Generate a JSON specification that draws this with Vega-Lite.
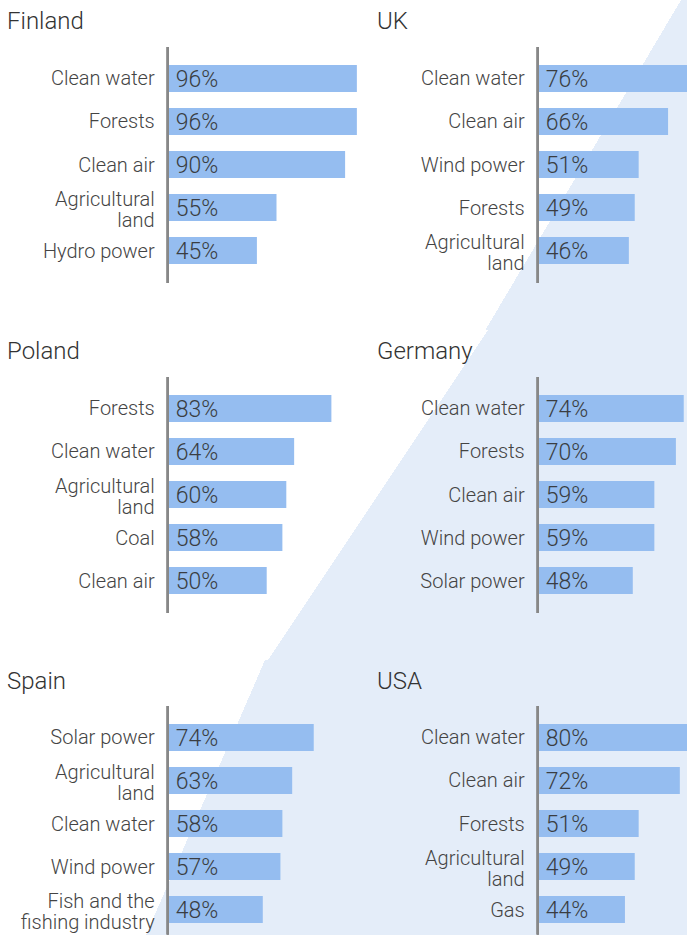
{
  "$schema": "https://vega.github.io/schema/vega-lite/v6.json",
  "padding": 0,
  "autosize": {"type": "pad"},
  "background": "#ffffff",
  "spacing": 0,
  "config": {
    "view": {"stroke": null},
    "font": "Roboto",
    "concat": {"spacing": 0}
  },
  "datasets": {
    "d": [
      {"country": "Finland", "category": "Clean water", "value": 0.96},
      {"country": "Finland", "category": "Forests", "value": 0.96},
      {"country": "Finland", "category": "Clean air", "value": 0.90},
      {"country": "Finland", "category": "Agricultural|land", "value": 0.55},
      {"country": "Finland", "category": "Hydro power\u00a0", "value": 0.45},
      {"country": "UK", "category": "Clean water", "value": 0.76},
      {"country": "UK", "category": "Clean air", "value": 0.66},
      {"country": "UK", "category": "Wind power", "value": 0.51},
      {"country": "UK", "category": "Forests", "value": 0.49},
      {"country": "UK", "category": "Agricultural|land", "value": 0.46},
      {"country": "Poland", "category": "Forests", "value": 0.83},
      {"country": "Poland", "category": "Clean water", "value": 0.64},
      {"country": "Poland", "category": "Agricultural|land", "value": 0.60},
      {"country": "Poland", "category": "Coal", "value": 0.58},
      {"country": "Poland", "category": "Clean air", "value": 0.50},
      {"country": "Germany", "category": "Clean water", "value": 0.74},
      {"country": "Germany", "category": "Forests", "value": 0.70},
      {"country": "Germany", "category": "Clean air", "value": 0.59},
      {"country": "Germany", "category": "Wind power", "value": 0.59},
      {"country": "Germany", "category": "Solar power", "value": 0.48},
      {"country": "Spain", "category": "Solar power\u00a0", "value": 0.74},
      {"country": "Spain", "category": "Agricultural|land", "value": 0.63},
      {"country": "Spain", "category": "Clean water", "value": 0.58},
      {"country": "Spain", "category": "Wind power", "value": 0.57},
      {"country": "Spain", "category": "Fish and the|fishing industry", "value": 0.48},
      {"country": "USA", "category": "Clean water", "value": 0.80},
      {"country": "USA", "category": "Clean air", "value": 0.72},
      {"country": "USA", "category": "Forests", "value": 0.51},
      {"country": "USA", "category": "Agricultural|land", "value": 0.49},
      {"country": "USA", "category": "Gas\u00a0", "value": 0.44}
    ]
  },
  "vconcat": [
    {
      "spacing": 0,
      "hconcat": [
        {
          "width": 370, "height": 330,
          "view": {"fill": "#ffffff", "stroke": null},
          "title": {"text": "Finland", "anchor": "start", "frame": "group", "orient": "top", "offset": -53, "baseline": "alphabetic", "dx": 7, "fontSize": 24, "fontWeight": 300, "color": "#333333", "zindex": 1},
          "data": {"name": "d"},
          "transform": [{"filter": "datum.country === 'Finland'"}],
          "encoding": {"y": {"field": "category", "type": "nominal", "sort": null, "axis": null, "scale": {"range": [65, 264], "paddingInner": 0.3721, "paddingOuter": 0, "round": false}}},
          "layer": [
            {"mark": {"type": "bar", "color": "#95bdf0", "clip": true}, "encoding": {"x": {"field": "value", "type": "quantitative", "axis": null, "scale": {"domain": [-0.8607, 1.027], "nice": false, "zero": false}}}},
            {"mark": {"type": "text", "align": "left", "baseline": "middle", "dx": 7, "dy": 1.5, "fontSize": 23, "fontWeight": 300, "color": "#3a3d42"}, "encoding": {"x": {"datum": 0, "type": "quantitative"}, "text": {"field": "value", "type": "quantitative", "format": ".0%"}}},
            {"transform": [{"filter": "indexof(datum.category, '|') < 0"}], "mark": {"type": "text", "align": "right", "baseline": "middle", "dx": -14, "dy": 1, "fontSize": 20, "fontWeight": 300, "color": "#444444"}, "encoding": {"x": {"datum": 0, "type": "quantitative"}, "text": {"field": "category", "type": "nominal"}}},
            {"transform": [{"filter": "indexof(datum.category, '|') >= 0"}], "mark": {"type": "text", "align": "right", "baseline": "middle", "dx": -14, "dy": -7.5, "lineBreak": "|", "lineHeight": 21, "fontSize": 20, "fontWeight": 300, "color": "#444444"}, "encoding": {"x": {"datum": 0, "type": "quantitative"}, "text": {"field": "category", "type": "nominal"}}},
            {"mark": {"type": "rule", "color": "#888888", "strokeWidth": 2, "xOffset": -1, "yOffset": -31.5, "y2Offset": 32.5}, "encoding": {"x": {"datum": 0, "type": "quantitative"}, "y": {"datum": "Clean water", "type": "nominal"}, "y2": {"datum": "Hydro power\u00a0"}}}
          ]
        },
        {
          "width": 317, "height": 330,
          "view": {"fill": {"gradient": "linear", "x1": 0, "y1": 0, "x2": 1, "y2": 0.6171, "stops": [{"offset": 0, "color": "#ffffff"}, {"offset": 0.7105, "color": "#ffffff"}, {"offset": 0.7105, "color": "#e4edf9"}, {"offset": 1, "color": "#e4edf9"}]}, "stroke": null},
          "title": {"text": "UK", "anchor": "start", "frame": "group", "orient": "top", "offset": -53, "baseline": "alphabetic", "dx": 7, "fontSize": 24, "fontWeight": 300, "color": "#333333", "zindex": 1},
          "data": {"name": "d"},
          "transform": [{"filter": "datum.country === 'UK'"}],
          "encoding": {"y": {"field": "category", "type": "nominal", "sort": null, "axis": null, "scale": {"range": [65, 264], "paddingInner": 0.3721, "paddingOuter": 0, "round": false}}},
          "layer": [
            {"mark": {"type": "bar", "color": "#95bdf0", "clip": true}, "encoding": {"x": {"field": "value", "type": "quantitative", "axis": null, "scale": {"domain": [-0.8607, 0.7566], "nice": false, "zero": false}}}},
            {"mark": {"type": "text", "align": "left", "baseline": "middle", "dx": 7, "dy": 1.5, "fontSize": 23, "fontWeight": 300, "color": "#3a3d42"}, "encoding": {"x": {"datum": 0, "type": "quantitative"}, "text": {"field": "value", "type": "quantitative", "format": ".0%"}}},
            {"transform": [{"filter": "indexof(datum.category, '|') < 0"}], "mark": {"type": "text", "align": "right", "baseline": "middle", "dx": -14, "dy": 1, "fontSize": 20, "fontWeight": 300, "color": "#444444"}, "encoding": {"x": {"datum": 0, "type": "quantitative"}, "text": {"field": "category", "type": "nominal"}}},
            {"transform": [{"filter": "indexof(datum.category, '|') >= 0"}], "mark": {"type": "text", "align": "right", "baseline": "middle", "dx": -14, "dy": -7.5, "lineBreak": "|", "lineHeight": 21, "fontSize": 20, "fontWeight": 300, "color": "#444444"}, "encoding": {"x": {"datum": 0, "type": "quantitative"}, "text": {"field": "category", "type": "nominal"}}},
            {"mark": {"type": "rule", "color": "#888888", "strokeWidth": 2, "xOffset": -1, "yOffset": -31.5, "y2Offset": 32.5}, "encoding": {"x": {"datum": 0, "type": "quantitative"}, "y": {"datum": "Clean water", "type": "nominal"}, "y2": {"datum": "Agricultural|land"}}}
          ]
        }
      ]
    },
    {
      "spacing": 0,
      "hconcat": [
        {
          "width": 370, "height": 330,
          "view": {"fill": {"gradient": "linear", "x1": 0, "y1": 0, "x2": 1, "y2": 0.5946, "stops": [{"offset": 0, "color": "#ffffff"}, {"offset": 0.9744, "color": "#ffffff"}, {"offset": 0.9744, "color": "#e4edf9"}, {"offset": 1, "color": "#e4edf9"}]}, "stroke": null},
          "title": {"text": "Poland", "anchor": "start", "frame": "group", "orient": "top", "offset": -53, "baseline": "alphabetic", "dx": 7, "fontSize": 24, "fontWeight": 300, "color": "#333333", "zindex": 1},
          "data": {"name": "d"},
          "transform": [{"filter": "datum.country === 'Poland'"}],
          "encoding": {"y": {"field": "category", "type": "nominal", "sort": null, "axis": null, "scale": {"range": [65, 264], "paddingInner": 0.3721, "paddingOuter": 0, "round": false}}},
          "layer": [
            {"mark": {"type": "bar", "color": "#95bdf0", "clip": true}, "encoding": {"x": {"field": "value", "type": "quantitative", "axis": null, "scale": {"domain": [-0.8607, 1.027], "nice": false, "zero": false}}}},
            {"mark": {"type": "text", "align": "left", "baseline": "middle", "dx": 7, "dy": 1.5, "fontSize": 23, "fontWeight": 300, "color": "#3a3d42"}, "encoding": {"x": {"datum": 0, "type": "quantitative"}, "text": {"field": "value", "type": "quantitative", "format": ".0%"}}},
            {"transform": [{"filter": "indexof(datum.category, '|') < 0"}], "mark": {"type": "text", "align": "right", "baseline": "middle", "dx": -14, "dy": 1, "fontSize": 20, "fontWeight": 300, "color": "#444444"}, "encoding": {"x": {"datum": 0, "type": "quantitative"}, "text": {"field": "category", "type": "nominal"}}},
            {"transform": [{"filter": "indexof(datum.category, '|') >= 0"}], "mark": {"type": "text", "align": "right", "baseline": "middle", "dx": -14, "dy": -7.5, "lineBreak": "|", "lineHeight": 21, "fontSize": 20, "fontWeight": 300, "color": "#444444"}, "encoding": {"x": {"datum": 0, "type": "quantitative"}, "text": {"field": "category", "type": "nominal"}}},
            {"mark": {"type": "rule", "color": "#888888", "strokeWidth": 2, "xOffset": -1, "yOffset": -31.5, "y2Offset": 32.5}, "encoding": {"x": {"datum": 0, "type": "quantitative"}, "y": {"datum": "Forests", "type": "nominal"}, "y2": {"datum": "Clean air"}}}
          ]
        },
        {
          "width": 317, "height": 330,
          "view": {"fill": {"gradient": "linear", "x1": 0, "y1": 0, "x2": 1, "y2": 0.694, "stops": [{"offset": 0, "color": "#ffffff"}, {"offset": 0.2512, "color": "#ffffff"}, {"offset": 0.2512, "color": "#e4edf9"}, {"offset": 1, "color": "#e4edf9"}]}, "stroke": null},
          "title": {"text": "Germany", "anchor": "start", "frame": "group", "orient": "top", "offset": -53, "baseline": "alphabetic", "dx": 7, "fontSize": 24, "fontWeight": 300, "color": "#333333", "zindex": 1},
          "data": {"name": "d"},
          "transform": [{"filter": "datum.country === 'Germany'"}],
          "encoding": {"y": {"field": "category", "type": "nominal", "sort": null, "axis": null, "scale": {"range": [65, 264], "paddingInner": 0.3721, "paddingOuter": 0, "round": false}}},
          "layer": [
            {"mark": {"type": "bar", "color": "#95bdf0", "clip": true}, "encoding": {"x": {"field": "value", "type": "quantitative", "axis": null, "scale": {"domain": [-0.8607, 0.7566], "nice": false, "zero": false}}}},
            {"mark": {"type": "text", "align": "left", "baseline": "middle", "dx": 7, "dy": 1.5, "fontSize": 23, "fontWeight": 300, "color": "#3a3d42"}, "encoding": {"x": {"datum": 0, "type": "quantitative"}, "text": {"field": "value", "type": "quantitative", "format": ".0%"}}},
            {"transform": [{"filter": "indexof(datum.category, '|') < 0"}], "mark": {"type": "text", "align": "right", "baseline": "middle", "dx": -14, "dy": 1, "fontSize": 20, "fontWeight": 300, "color": "#444444"}, "encoding": {"x": {"datum": 0, "type": "quantitative"}, "text": {"field": "category", "type": "nominal"}}},
            {"transform": [{"filter": "indexof(datum.category, '|') >= 0"}], "mark": {"type": "text", "align": "right", "baseline": "middle", "dx": -14, "dy": -7.5, "lineBreak": "|", "lineHeight": 21, "fontSize": 20, "fontWeight": 300, "color": "#444444"}, "encoding": {"x": {"datum": 0, "type": "quantitative"}, "text": {"field": "category", "type": "nominal"}}},
            {"mark": {"type": "rule", "color": "#888888", "strokeWidth": 2, "xOffset": -1, "yOffset": -31.5, "y2Offset": 32.5}, "encoding": {"x": {"datum": 0, "type": "quantitative"}, "y": {"datum": "Clean water", "type": "nominal"}, "y2": {"datum": "Solar power"}}}
          ]
        }
      ]
    },
    {
      "spacing": 0,
      "hconcat": [
        {
          "width": 370, "height": 275,
          "view": {"fill": {"gradient": "linear", "x1": 0, "y1": 0, "x2": 1, "y2": 0.3216, "stops": [{"offset": 0, "color": "#ffffff"}, {"offset": 0.6491, "color": "#ffffff"}, {"offset": 0.6491, "color": "#e4edf9"}, {"offset": 1, "color": "#e4edf9"}]}, "stroke": null},
          "title": {"text": "Spain", "anchor": "start", "frame": "group", "orient": "top", "offset": -53, "baseline": "alphabetic", "dx": 7, "fontSize": 24, "fontWeight": 300, "color": "#333333", "zindex": 1},
          "data": {"name": "d"},
          "transform": [{"filter": "datum.country === 'Spain'"}],
          "encoding": {"y": {"field": "category", "type": "nominal", "sort": null, "axis": null, "scale": {"range": [64, 263], "paddingInner": 0.3721, "paddingOuter": 0, "round": false}}},
          "layer": [
            {"mark": {"type": "bar", "color": "#95bdf0", "clip": true}, "encoding": {"x": {"field": "value", "type": "quantitative", "axis": null, "scale": {"domain": [-0.8607, 1.027], "nice": false, "zero": false}}}},
            {"mark": {"type": "text", "align": "left", "baseline": "middle", "dx": 7, "dy": 1.5, "fontSize": 23, "fontWeight": 300, "color": "#3a3d42"}, "encoding": {"x": {"datum": 0, "type": "quantitative"}, "text": {"field": "value", "type": "quantitative", "format": ".0%"}}},
            {"transform": [{"filter": "indexof(datum.category, '|') < 0"}], "mark": {"type": "text", "align": "right", "baseline": "middle", "dx": -14, "dy": 1, "fontSize": 20, "fontWeight": 300, "color": "#444444"}, "encoding": {"x": {"datum": 0, "type": "quantitative"}, "text": {"field": "category", "type": "nominal"}}},
            {"transform": [{"filter": "indexof(datum.category, '|') >= 0"}], "mark": {"type": "text", "align": "right", "baseline": "middle", "dx": -14, "dy": -7.5, "lineBreak": "|", "lineHeight": 21, "fontSize": 20, "fontWeight": 300, "color": "#444444"}, "encoding": {"x": {"datum": 0, "type": "quantitative"}, "text": {"field": "category", "type": "nominal"}}},
            {"mark": {"type": "rule", "color": "#888888", "strokeWidth": 2, "xOffset": -1, "yOffset": -31.5, "y2Offset": 25}, "encoding": {"x": {"datum": 0, "type": "quantitative"}, "y": {"datum": "Solar power\u00a0", "type": "nominal"}, "y2": {"datum": "Fish and the|fishing industry"}}}
          ]
        },
        {
          "width": 317, "height": 275,
          "view": {"fill": "#e4edf9", "stroke": null},
          "title": {"text": "USA", "anchor": "start", "frame": "group", "orient": "top", "offset": -53, "baseline": "alphabetic", "dx": 7, "fontSize": 24, "fontWeight": 300, "color": "#333333", "zindex": 1},
          "data": {"name": "d"},
          "transform": [{"filter": "datum.country === 'USA'"}],
          "encoding": {"y": {"field": "category", "type": "nominal", "sort": null, "axis": null, "scale": {"range": [64, 263], "paddingInner": 0.3721, "paddingOuter": 0, "round": false}}},
          "layer": [
            {"mark": {"type": "bar", "color": "#95bdf0", "clip": true}, "encoding": {"x": {"field": "value", "type": "quantitative", "axis": null, "scale": {"domain": [-0.8607, 0.7566], "nice": false, "zero": false}}}},
            {"mark": {"type": "text", "align": "left", "baseline": "middle", "dx": 7, "dy": 1.5, "fontSize": 23, "fontWeight": 300, "color": "#3a3d42"}, "encoding": {"x": {"datum": 0, "type": "quantitative"}, "text": {"field": "value", "type": "quantitative", "format": ".0%"}}},
            {"transform": [{"filter": "indexof(datum.category, '|') < 0"}], "mark": {"type": "text", "align": "right", "baseline": "middle", "dx": -14, "dy": 1, "fontSize": 20, "fontWeight": 300, "color": "#444444"}, "encoding": {"x": {"datum": 0, "type": "quantitative"}, "text": {"field": "category", "type": "nominal"}}},
            {"transform": [{"filter": "indexof(datum.category, '|') >= 0"}], "mark": {"type": "text", "align": "right", "baseline": "middle", "dx": -14, "dy": -7.5, "lineBreak": "|", "lineHeight": 21, "fontSize": 20, "fontWeight": 300, "color": "#444444"}, "encoding": {"x": {"datum": 0, "type": "quantitative"}, "text": {"field": "category", "type": "nominal"}}},
            {"mark": {"type": "rule", "color": "#888888", "strokeWidth": 2, "xOffset": -1, "yOffset": -31.5, "y2Offset": 25}, "encoding": {"x": {"datum": 0, "type": "quantitative"}, "y": {"datum": "Clean water", "type": "nominal"}, "y2": {"datum": "Gas\u00a0"}}}
          ]
        }
      ]
    }
  ]
}
